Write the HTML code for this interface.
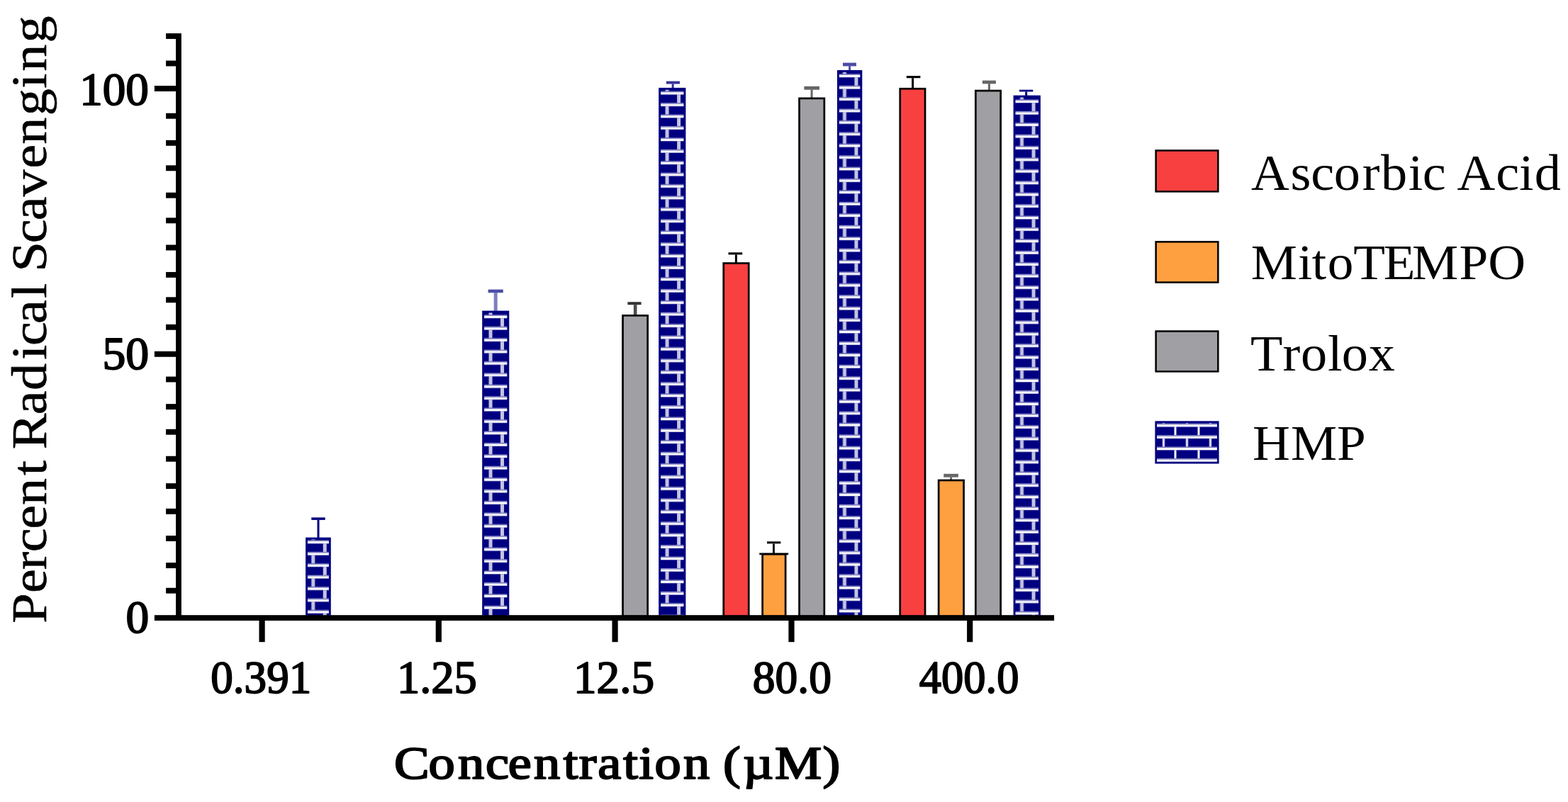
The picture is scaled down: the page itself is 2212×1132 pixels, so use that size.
<!DOCTYPE html>
<html lang="en">
<head>
<meta charset="utf-8">
<title>Percent Radical Scavenging vs Concentration</title>
<style>
html,body{margin:0;padding:0;background:#fff;overflow:hidden;}
body{width:2212px;height:1132px;overflow:hidden;}
svg{display:block;}
text{font-family:"Liberation Serif",serif;fill:#000;}
</style>
</head>
<body>
<svg width="2212" height="1132" viewBox="0 0 2212 1132">
<rect x="0" y="0" width="2212" height="1132" fill="#fff"/>
<defs>
<pattern id="b1" patternUnits="userSpaceOnUse" x="451.75" y="760.00" width="33.0" height="32.84"><rect x="0" y="0" width="33.0" height="32.84" fill="#000080"/><rect x="0" y="2.40" width="33.0" height="1.7" fill="#8484c4"/><rect x="0" y="4.00" width="33.0" height="3.2" fill="#fff"/><rect x="0" y="18.82" width="33.0" height="1.7" fill="#8484c4"/><rect x="0" y="20.42" width="33.0" height="3.2" fill="#fff"/><rect x="4.00" y="7.20" width="5.0" height="11.62" fill="#c4c4e2"/><rect x="20.50" y="23.62" width="5.0" height="9.22" fill="#c4c4e2"/><rect x="20.50" y="0" width="5.0" height="2.40" fill="#c4c4e2"/></pattern>
<pattern id="b2" patternUnits="userSpaceOnUse" x="702.05" y="441.90" width="33.0" height="32.84"><rect x="0" y="0" width="33.0" height="32.84" fill="#000080"/><rect x="0" y="2.40" width="33.0" height="1.7" fill="#8484c4"/><rect x="0" y="4.00" width="33.0" height="3.2" fill="#fff"/><rect x="0" y="18.82" width="33.0" height="1.7" fill="#8484c4"/><rect x="0" y="20.42" width="33.0" height="3.2" fill="#fff"/><rect x="4.00" y="7.20" width="5.0" height="11.62" fill="#c4c4e2"/><rect x="20.50" y="23.62" width="5.0" height="9.22" fill="#c4c4e2"/><rect x="20.50" y="0" width="5.0" height="2.40" fill="#c4c4e2"/></pattern>
<pattern id="b3" patternUnits="userSpaceOnUse" x="951.10" y="126.30" width="33.0" height="32.84"><rect x="0" y="0" width="33.0" height="32.84" fill="#000080"/><rect x="0" y="2.40" width="33.0" height="1.7" fill="#8484c4"/><rect x="0" y="4.00" width="33.0" height="3.2" fill="#fff"/><rect x="0" y="18.82" width="33.0" height="1.7" fill="#8484c4"/><rect x="0" y="20.42" width="33.0" height="3.2" fill="#fff"/><rect x="4.00" y="7.20" width="5.0" height="11.62" fill="#c4c4e2"/><rect x="20.50" y="23.62" width="5.0" height="9.22" fill="#c4c4e2"/><rect x="20.50" y="0" width="5.0" height="2.40" fill="#c4c4e2"/></pattern>
<pattern id="b4" patternUnits="userSpaceOnUse" x="1201.45" y="101.90" width="33.0" height="32.84"><rect x="0" y="0" width="33.0" height="32.84" fill="#000080"/><rect x="0" y="2.40" width="33.0" height="1.7" fill="#8484c4"/><rect x="0" y="4.00" width="33.0" height="3.2" fill="#fff"/><rect x="0" y="18.82" width="33.0" height="1.7" fill="#8484c4"/><rect x="0" y="20.42" width="33.0" height="3.2" fill="#fff"/><rect x="4.00" y="7.20" width="5.0" height="11.62" fill="#c4c4e2"/><rect x="20.50" y="23.62" width="5.0" height="9.22" fill="#c4c4e2"/><rect x="20.50" y="0" width="5.0" height="2.40" fill="#c4c4e2"/></pattern>
<pattern id="b5" patternUnits="userSpaceOnUse" x="1451.55" y="138.00" width="33.0" height="32.84"><rect x="0" y="0" width="33.0" height="32.84" fill="#000080"/><rect x="0" y="2.40" width="33.0" height="1.7" fill="#8484c4"/><rect x="0" y="4.00" width="33.0" height="3.2" fill="#fff"/><rect x="0" y="18.82" width="33.0" height="1.7" fill="#8484c4"/><rect x="0" y="20.42" width="33.0" height="3.2" fill="#fff"/><rect x="4.00" y="7.20" width="5.0" height="11.62" fill="#c4c4e2"/><rect x="20.50" y="23.62" width="5.0" height="9.22" fill="#c4c4e2"/><rect x="20.50" y="0" width="5.0" height="2.40" fill="#c4c4e2"/></pattern>
<pattern id="lgp" patternUnits="userSpaceOnUse" x="1652.50" y="595.30" width="33.0" height="32.84"><rect x="0" y="0" width="33.0" height="32.84" fill="#000080"/><rect x="0" y="2.40" width="33.0" height="1.7" fill="#8484c4"/><rect x="0" y="4.00" width="33.0" height="3.2" fill="#fff"/><rect x="0" y="18.82" width="33.0" height="1.7" fill="#8484c4"/><rect x="0" y="20.42" width="33.0" height="3.2" fill="#fff"/><rect x="4.00" y="7.20" width="3.0" height="11.62" fill="#f4f4fa"/><rect x="20.50" y="23.62" width="3.0" height="9.22" fill="#f4f4fa"/><rect x="20.50" y="0" width="3.0" height="2.40" fill="#f4f4fa"/></pattern>
<filter id="soft" x="-2%" y="-2%" width="104%" height="104%"><feGaussianBlur stdDeviation="0.7"/></filter>
</defs>
<g id="bars">
<g fill="#000080"><rect x="439.30" y="730.40" width="19.40" height="3.50" opacity="1.0"/><rect x="447.50" y="733.90" width="3.0" height="25.70" opacity="1.0"/></g>
<rect x="431.10" y="758.60" width="35.70" height="110.00" fill="#000080"/>
<rect x="434.00" y="761.50" width="29.90" height="110.00" fill="url(#b1)"/>
<g fill="#000080"><rect x="688.60" y="408.60" width="21.20" height="4.60" opacity="0.7"/><rect x="696.70" y="413.20" width="5.0" height="26.40" opacity="0.5"/></g>
<rect x="680.20" y="438.60" width="38.10" height="430.00" fill="#000080"/>
<rect x="683.10" y="441.50" width="32.30" height="430.00" fill="url(#b2)"/>
<g fill="#000"><rect x="885.40" y="426.20" width="19.20" height="4.00" opacity="0.8"/><rect x="893.90" y="430.20" width="4.6" height="14.80" opacity="0.7"/></g>
<rect x="878.55" y="445.35" width="35.10" height="424.60" fill="#a0a0a4" stroke="#000" stroke-width="2.7"/>
<g fill="#000080"><rect x="939.90" y="114.60" width="19.10" height="3.90" opacity="0.8"/><rect x="947.70" y="118.50" width="3.0" height="6.40" opacity="0.8"/></g>
<rect x="929.20" y="123.90" width="38.20" height="744.70" fill="#000080"/>
<rect x="932.10" y="126.80" width="32.40" height="744.70" fill="url(#b3)"/>
<g fill="#000"><rect x="1027.50" y="356.30" width="19.70" height="3.10" opacity="1.0"/><rect x="1036.90" y="359.40" width="3.0" height="11.80" opacity="1.0"/></g>
<rect x="1020.75" y="371.55" width="35.50" height="498.40" fill="#f94040" stroke="#000" stroke-width="2.7"/>
<g fill="#000"><rect x="1082.00" y="764.20" width="19.40" height="3.20" opacity="0.9"/><rect x="1090.00" y="767.40" width="3.0" height="14.50" opacity="0.9"/></g>
<rect x="1071.3" y="780.5" width="40.9" height="2.7" fill="#000"/>
<rect x="1075.65" y="782.25" width="32.50" height="87.70" fill="#ffa040" stroke="#000" stroke-width="2.7"/>
<g fill="#000"><rect x="1134.40" y="121.80" width="21.60" height="4.90" opacity="0.6"/><rect x="1143.60" y="126.70" width="3.0" height="11.80" opacity="0.6"/></g>
<rect x="1127.55" y="138.85" width="35.30" height="731.10" fill="#a0a0a4" stroke="#000" stroke-width="2.7"/>
<g fill="#000080"><rect x="1189.00" y="88.60" width="19.00" height="4.80" opacity="0.7"/><rect x="1197.10" y="93.40" width="3.0" height="6.60" opacity="0.7"/></g>
<rect x="1181.00" y="99.00" width="35.30" height="769.60" fill="#000080"/>
<rect x="1183.90" y="101.90" width="29.50" height="769.60" fill="url(#b4)"/>
<g fill="#000"><rect x="1278.80" y="107.10" width="19.60" height="3.10" opacity="1.0"/><rect x="1286.10" y="110.20" width="3.0" height="14.70" opacity="1.0"/></g>
<rect x="1269.75" y="125.25" width="35.30" height="744.70" fill="#f94040" stroke="#000" stroke-width="2.7"/>
<g fill="#000"><rect x="1331.30" y="668.80" width="20.60" height="4.80" opacity="0.6"/><rect x="1340.10" y="673.60" width="3.0" height="4.00" opacity="0.6"/></g>
<rect x="1324.15" y="677.95" width="35.40" height="192.00" fill="#ffa040" stroke="#000" stroke-width="2.7"/>
<g fill="#000"><rect x="1385.90" y="113.60" width="19.00" height="4.70" opacity="0.6"/><rect x="1393.90" y="118.30" width="3.0" height="9.40" opacity="0.6"/></g>
<rect x="1376.35" y="128.05" width="35.30" height="741.90" fill="#a0a0a4" stroke="#000" stroke-width="2.7"/>
<g fill="#000080"><rect x="1438.00" y="126.70" width="19.30" height="2.70" opacity="1.0"/><rect x="1446.20" y="129.40" width="3.0" height="6.20" opacity="1.0"/></g>
<rect x="1429.60" y="134.60" width="38.30" height="734.00" fill="#000080"/>
<rect x="1432.50" y="137.50" width="32.50" height="734.00" fill="url(#b5)"/>
</g>
<g id="axes">
<g fill="#000">
<rect x="248.1" y="47.1" width="7.8" height="828.9"/>
<rect x="217.9" y="868.2" width="1269.2" height="7.8"/>
<rect x="234.1" y="47.05" width="15.9" height="7.9"/>
<rect x="234.1" y="85.55" width="15.9" height="7.9"/>
<rect x="217.9" y="121.05" width="32.1" height="7.9"/>
<rect x="234.1" y="159.75" width="15.9" height="7.9"/>
<rect x="234.1" y="197.85" width="15.9" height="7.9"/>
<rect x="234.1" y="233.35" width="15.9" height="7.9"/>
<rect x="234.1" y="271.75" width="15.9" height="7.9"/>
<rect x="234.1" y="307.35" width="15.9" height="7.9"/>
<rect x="234.1" y="345.55" width="15.9" height="7.9"/>
<rect x="234.1" y="383.95" width="15.9" height="7.9"/>
<rect x="234.1" y="419.35" width="15.9" height="7.9"/>
<rect x="234.1" y="457.85" width="15.9" height="7.9"/>
<rect x="217.9" y="495.85" width="32.1" height="7.9"/>
<rect x="234.1" y="531.55" width="15.9" height="7.9"/>
<rect x="234.1" y="570.15" width="15.9" height="7.9"/>
<rect x="234.1" y="605.75" width="15.9" height="7.9"/>
<rect x="234.1" y="643.75" width="15.9" height="7.9"/>
<rect x="234.1" y="682.15" width="15.9" height="7.9"/>
<rect x="234.1" y="717.85" width="15.9" height="7.9"/>
<rect x="234.1" y="756.05" width="15.9" height="7.9"/>
<rect x="234.1" y="794.15" width="15.9" height="7.9"/>
<rect x="234.1" y="829.75" width="15.9" height="7.9"/>
<rect x="365.50" y="870" width="8.2" height="36.2"/>
<rect x="614.70" y="870" width="8.2" height="36.2"/>
<rect x="863.50" y="870" width="8.2" height="36.2"/>
<rect x="1112.40" y="870" width="8.2" height="36.2"/>
<rect x="1364.10" y="870" width="8.2" height="36.2"/>
</g>
</g>
<g id="legend">
<rect x="1630.65" y="212.45" width="87.70" height="57.90" fill="#f94040" stroke="#000" stroke-width="2.5"/>
<rect x="1630.65" y="341.35" width="87.70" height="57.20" fill="#ffa040" stroke="#000" stroke-width="2.5"/>
<rect x="1630.65" y="467.55" width="87.70" height="56.80" fill="#a0a0a4" stroke="#000" stroke-width="2.5"/>
<rect x="1629.4" y="594.3" width="90.2" height="60.2" fill="#000080"/>
<rect x="1632.0" y="596.9" width="85.0" height="55.0" fill="url(#lgp)"/>
</g>
<g id="labels" filter="url(#soft)">
<text transform="translate(112.14,148.20) scale(0.9924,1)" font-size="65.7" font-weight="normal" stroke="#000" stroke-width="1.9" stroke-linejoin="round">100</text>
<text transform="translate(144.40,521.30) scale(1.0000,1)" font-size="65.7" font-weight="normal" stroke="#000" stroke-width="1.9" stroke-linejoin="round">50</text>
<text transform="translate(177.51,893.00) scale(0.9966,1)" font-size="65.7" font-weight="normal" stroke="#000" stroke-width="1.9" stroke-linejoin="round">0</text>
<text transform="translate(297.28,978.20) scale(0.9608,1)" font-size="65.7" font-weight="normal" stroke="#000" stroke-width="1.9" stroke-linejoin="round">0.391</text>
<text transform="translate(559.88,978.20) scale(0.9833,1)" font-size="65.7" font-weight="normal" stroke="#000" stroke-width="1.9" stroke-linejoin="round">1.25</text>
<text transform="translate(808.93,978.20) scale(0.9944,1)" font-size="65.7" font-weight="normal" stroke="#000" stroke-width="1.9" stroke-linejoin="round">12.5</text>
<text transform="translate(1061.77,978.20) scale(0.9667,1)" font-size="65.7" font-weight="normal" stroke="#000" stroke-width="1.9" stroke-linejoin="round">80.0</text>
<text transform="translate(1296.70,978.20) scale(0.9521,1)" font-size="65.7" font-weight="normal" stroke="#000" stroke-width="1.9" stroke-linejoin="round">400.0</text>
<text transform="translate(556.06,1099.40) scale(1.12,1)" x="0.00 43.26 80.32 115.12 143.56 175.90 213.04 232.82 256.46 288.66 308.22 328.17 364.29 390.89 414.34 439.56 479.51 539.58" font-size="66.5" font-weight="normal" stroke="#000" stroke-width="2.1" stroke-linejoin="round">Concentration (µM)</text>
<text transform="translate(64.70,879.71) rotate(-90) scale(1.08,1)" x="0.00 39.51 69.91 92.94 123.07 154.32 193.16" font-size="70.5" font-weight="normal" stroke="#000" stroke-width="0.6" stroke-linejoin="round">Percent</text>
<text transform="translate(64.70,634.21) rotate(-90) scale(1.08,1)" x="0.00 45.27 77.02 117.05 135.34 164.02 197.32" font-size="70.5" font-weight="normal" stroke="#000" stroke-width="0.6" stroke-linejoin="round">Radical</text>
<text transform="translate(64.70,383.51) rotate(-90) scale(1.08,1)" x="0.00 37.24 66.84 98.17 134.93 166.36 204.06 239.50 261.73 299.01" font-size="70.5" font-weight="normal" stroke="#000" stroke-width="0.6" stroke-linejoin="round">Scavenging</text>
<text transform="translate(1764.91,267.50) scale(1.04,1)" x="0.00 53.35 81.13 112.42 150.78 176.04 213.26 232.48 261.08 279.38 332.00 363.60 384.55" font-size="71.5" font-weight="normal">Ascorbic Acid</text>
<text transform="translate(1764.84,394.00) scale(1.04,1)" x="0.00 63.59 82.56 103.79 138.75 179.78 218.51 282.36 321.48" font-size="70.5" font-weight="normal">MitoTEMPO</text>
<text transform="translate(1764.09,522.50) scale(1.04,1)" x="0.00 43.73 68.16 104.64 123.84 160.28" font-size="71.5" font-weight="normal">Trolox</text>
<text transform="translate(1766.98,648.70) scale(1.04,1)" x="0.00 51.88 114.38" font-size="70.5" font-weight="normal">HMP</text>
</g>
</svg>
</body>
</html>
